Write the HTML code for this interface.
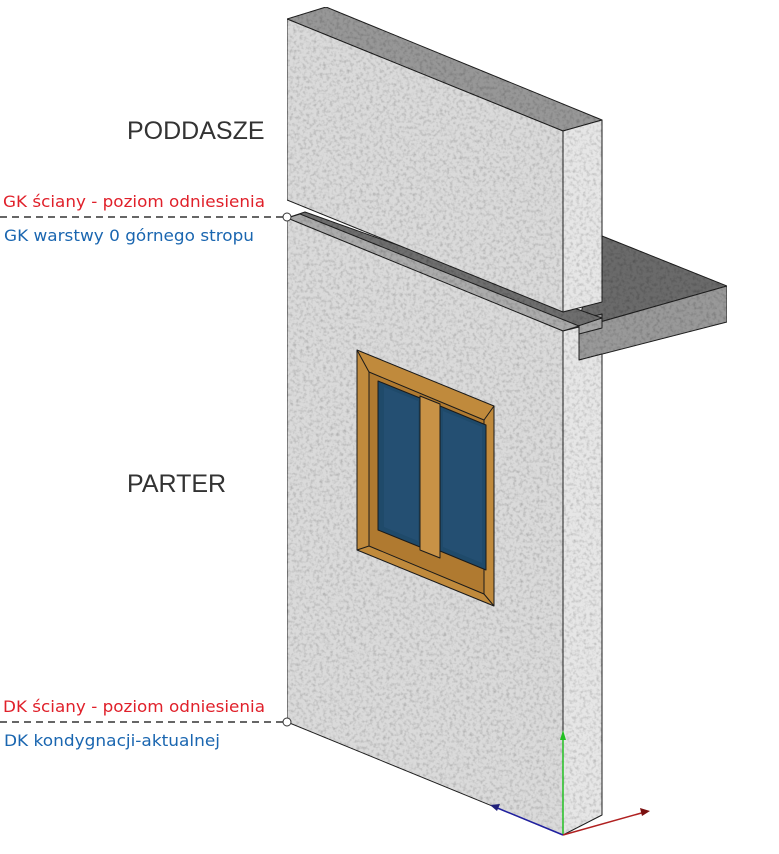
<!DOCTYPE html>
<html><head><meta charset="utf-8"><style>html,body{margin:0;padding:0;background:#fff}svg{display:block}</style></head>
<body>
<svg width="779" height="854" viewBox="0 0 779 854" xmlns="http://www.w3.org/2000/svg">
<defs>
<filter id="tex" x="0" y="0" width="100%" height="100%">
<feTurbulence type="fractalNoise" baseFrequency="0.3" numOctaves="2" seed="3" result="n"/>
<feColorMatrix in="n" type="matrix" values="0 0 0 0 0  0 0 0 0 0  0 0 0 0 0  0 0 0 -0.8 0.45" result="a"/>
<feComposite in="a" in2="SourceGraphic" operator="in" result="b"/>
<feMerge><feMergeNode in="SourceGraphic"/><feMergeNode in="b"/></feMerge>
</filter>
</defs>
<g stroke="#222" stroke-width="1" stroke-linejoin="round" filter="url(#tex)">
<!-- slab -->
<polygon points="602,236 727,286 600,322 579,328 579,320" fill="#6a6a6a"/>
<polygon points="579,328 727,286 727,322 579,360" fill="#999"/>
<polygon points="579,320 602,314 602,328 579,334" fill="#a5a5a5"/>
<!-- lower wall -->
<polygon points="287,218 305,212 602,318 563,331" fill="#6e6e6e"/>
<polygon points="287,218 300,214 579,326 563,331" fill="#ababab"/>
<polygon points="287,218 563,331 563,835 287,722" fill="#dadada"/>
<polygon points="563,331 579,327 579,360 602,354 602,815 563,835" fill="#e6e6e6"/>
<!-- upper wall -->
<polygon points="287,19 326,7 602,120 563,131" fill="#979797"/>
<polygon points="287,19 563,131 563,312 287,200" fill="#dadada"/>
<polygon points="563,131 602,120 602,302 563,312" fill="#e6e6e6"/>
</g>
<!-- window -->
<g stroke="#1a1a1a" stroke-width="1" stroke-linejoin="round">
<polygon points="357,350 494,406 494,606 357,550" fill="#c08a3c"/>
<polygon points="369,372 484,420 484,594 369,546" fill="#b07a30"/>
<polygon points="378,381 420,398 420,547 378,530" fill="#1f4a6a"/>
<polygon points="440,406 486,425 486,570 440,551" fill="#1f4a6a"/>
<polygon points="384,387 418,401 418,541 384,527" fill="#244f72" stroke="none"/>
<polygon points="443,411 482,427 482,563 443,547" fill="#244f72" stroke="none"/>
<polygon points="420,396 440,404 440,558 420,550" fill="#c89246"/>
<line x1="357" y1="350" x2="369" y2="372"/><line x1="494" y1="406" x2="484" y2="420"/>
<line x1="494" y1="606" x2="484" y2="594"/><line x1="357" y1="550" x2="369" y2="546"/>
</g>
<!-- axes -->
<line x1="563" y1="835" x2="563" y2="735" stroke="#22c022" stroke-width="1.5"/>
<polygon points="563,730 560,740 566,740" fill="#22c022"/>
<line x1="563" y1="835" x2="495" y2="807" stroke="#2020a0" stroke-width="1.5"/>
<polygon points="490,805 500,804 497,811" fill="#20207a"/>
<line x1="563" y1="835" x2="645" y2="812" stroke="#b02020" stroke-width="1.5"/>
<polygon points="650,811 640,808 642,816" fill="#7a1010"/>
<!-- dashed levels -->
<line x1="0" y1="217" x2="283" y2="217" stroke="#333" stroke-width="1.5" stroke-dasharray="7,5"/>
<circle cx="287" cy="217" r="4" fill="#fff" stroke="#333"/>
<line x1="0" y1="722" x2="283" y2="722" stroke="#333" stroke-width="1.5" stroke-dasharray="7,5"/>
<circle cx="287" cy="722" r="4" fill="#fff" stroke="#333"/>
<g font-family="DejaVu Sans, sans-serif" font-size="16">
<text x="3" y="207" fill="#e0202a" textLength="262" lengthAdjust="spacingAndGlyphs">GK ściany - poziom odniesienia</text>
<text x="4" y="241" fill="#1a66b0" textLength="250" lengthAdjust="spacingAndGlyphs">GK warstwy 0 górnego stropu</text>
<text x="3" y="712" fill="#e0202a" textLength="262" lengthAdjust="spacingAndGlyphs">DK ściany - poziom odniesienia</text>
<text x="4" y="746" fill="#1a66b0" textLength="216" lengthAdjust="spacingAndGlyphs">DK kondygnacji-aktualnej</text>
</g>
<g font-family="Liberation Sans, sans-serif" font-size="25" fill="#333">
<text x="127" y="139">PODDASZE</text>
<text x="127" y="492">PARTER</text>
</g>
</svg>
</body></html>
